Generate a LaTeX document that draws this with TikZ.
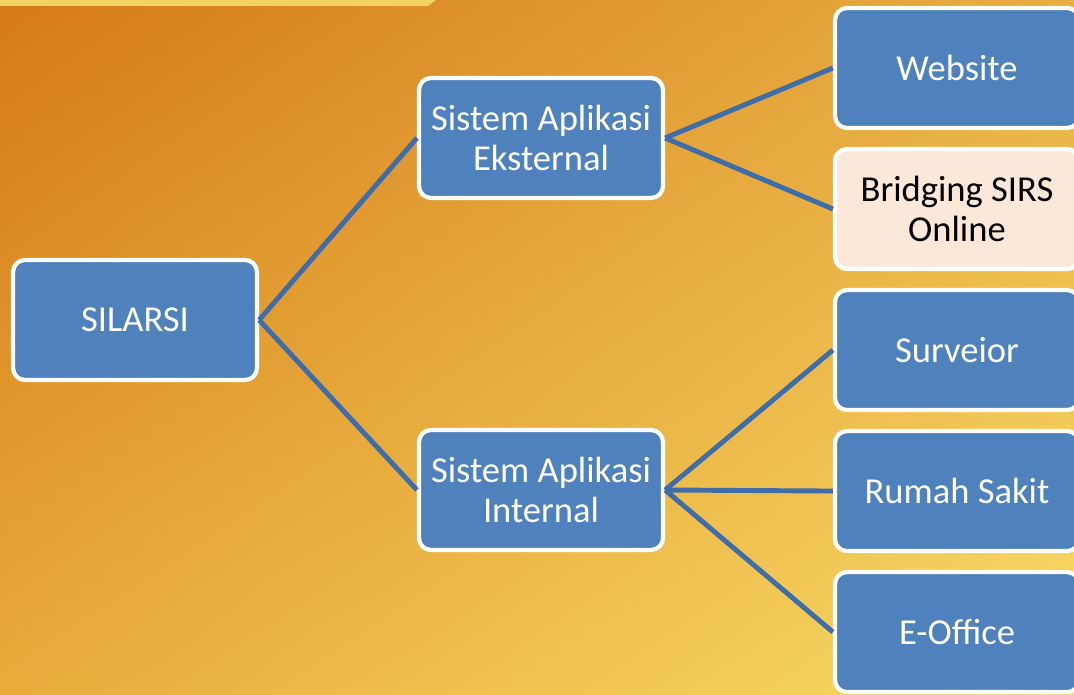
\documentclass[tikz,border=0pt]{standalone}
\usepackage{fontspec}
\setmainfont{Carlito}
\usepackage{xcolor}
\usepackage{tikz}
\usetikzlibrary{positioning, calc, shadings}
\definecolor{boxblue}{HTML}{4F81BD}
\definecolor{linkblue}{HTML}{3F6DA9}
\definecolor{peach}{HTML}{FCE8D9}
\definecolor{bgtl}{HTML}{D47A18}
\definecolor{bgtr}{HTML}{E8AE42}
\definecolor{bgbl}{HTML}{E9AB3A}
\definecolor{bgbr}{HTML}{F8DC66}
\definecolor{topbar}{HTML}{F5D063}
\tikzstyle{appbox} = [rectangle, rounded corners=0.3cm, draw=white, line width=3pt, fill=boxblue, text=white, minimum width=6.1cm, minimum height=3cm, align=center, font=\fontsize{26}{28}\selectfont]
\tikzstyle{peachbox} = [appbox, fill=peach, text=black]
\tikzstyle{link} = [line width=3.5pt, draw=linkblue]

\begin{document}
\begin{tikzpicture}[node distance=0.42cm]
		\clip (0,0) rectangle (26.85,17.35);
		\shade[upper left=bgtl, upper right=bgtr, lower left=bgbl, lower right=bgbr] (0,0) rectangle (26.85,17.35);
		\fill[topbar] (0,17.35) -- (10.9,17.35) -- (10.7,17.2) -- (0,17.2) -- cycle;
		
		\node (silarsi) [appbox] at (3.375,9.35) {SILARSI};
		\node (ext) [appbox] at (13.525,13.9) {Sistem Aplikasi\\Eksternal};
		\node (int) [appbox] at (13.525,5.1) {Sistem Aplikasi\\Internal};
		
		\node (web) [appbox] at (23.925,15.65) {Website};
		\node (bridge) [peachbox, below=of web] {Bridging SIRS\\Online};
		\node (surv) [appbox, below=of bridge] {Surveior};
		\node (rs) [appbox, below=of surv] {Rumah Sakit};
		\node (eoffice) [appbox, below=of rs] {E-Office};
		
		\draw[link] (silarsi.east) -- (ext.west);
		\draw[link] (silarsi.east) -- (int.west);
		\draw[link] (ext.east) -- (web.west);
		\draw[link] (ext.east) -- (bridge.west);
		\draw[link] (int.east) -- (surv.west);
		\draw[link] (int.east) -- (rs.west);
		\draw[link] (int.east) -- (eoffice.west);
	\end{tikzpicture}
\end{document}
